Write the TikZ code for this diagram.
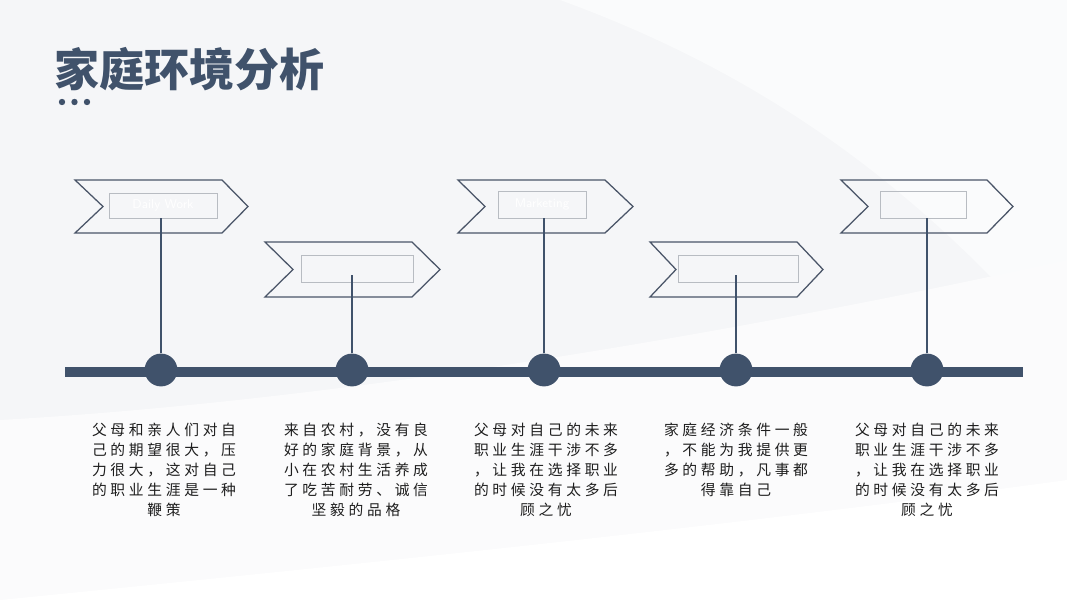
\documentclass[tikz,border=0pt]{standalone}
\usepackage{fontspec}
\setmainfont{Liberation Sans}
\newfontfamily\cjk{Noto Sans CJK SC}
\newfontfamily\cjkbody[LetterSpace=25]{Noto Sans CJK SC}
\usetikzlibrary{positioning}
\definecolor{timelineblue}{HTML}{40526B}
\definecolor{chevrongray}{HTML}{4A5568}
\definecolor{boxgray}{HTML}{B8BCC2}
\definecolor{textgray}{HTML}{1E1E1E}
\definecolor{bgpale}{HTML}{F5F6F8}

\begin{document}
\begin{tikzpicture}[x=0.025cm, y=-0.025cm,
  chev/.style={draw=chevrongray, line width=0.9pt, line join=miter},
  tagbox/.style={rectangle, draw=boxgray, line width=0.5pt, inner sep=0pt, text=white, font=\sffamily\small},
  tldot/.style={circle, fill=timelineblue, minimum size=0.82cm, inner sep=0pt},
  stem/.style={draw=timelineblue, line width=2.1pt},
  desc/.style={anchor=north, align=center, inner sep=0pt, text=textgray, font=\cjkbody\fontsize{10.5}{14.2}\selectfont}]
\useasboundingbox (0,0) rectangle (1067,600);

% Background
\fill[bgpale] (0,0) rectangle (1067,600);
\fill[white!55!bgpale] (560,0) -- (1067,0) -- (1067,360) .. controls (930,200) and (780,80) .. (560,0);
\fill[white!60!bgpale] (0,420) .. controls (350,400) and (750,330) .. (1067,260) -- (1067,600) -- (0,600) -- cycle;
\fill[white] (0,600) .. controls (300,570) and (700,530) .. (1067,480) -- (1067,600) -- cycle;

% Title
\node[anchor=west, inner sep=0pt, text=timelineblue, font=\cjk\bfseries\fontsize{32}{36}\selectfont] (title) at (54,69) {家庭环境分析};
\fill[timelineblue] (62,102) circle (3.2);
\fill[timelineblue] (74.5,102) circle (3.2);
\fill[timelineblue] (87,102) circle (3.2);

% Chevrons
\draw[chev] (75,180) -- (222,180) -- (248,206.5) -- (222,233) -- (75,233) -- (103,206.5) -- cycle;
\draw[chev] (265,242) -- (412,242) -- (440,269.5) -- (412,297) -- (265,297) -- (293,269.5) -- cycle;
\draw[chev] (458,180) -- (605,180) -- (633,206.5) -- (605,233) -- (458,233) -- (485,206.5) -- cycle;
\draw[chev] (650,242) -- (797,242) -- (823,269.5) -- (797,297) -- (650,297) -- (676,269.5) -- cycle;
\draw[chev] (841,180) -- (987,180) -- (1013,206.5) -- (987,233) -- (841,233) -- (868,206.5) -- cycle;

% Tag boxes
\node[tagbox, minimum width=2.7cm, minimum height=0.625cm] (t1) at (163,205.5) {Daily Work};
\node[tagbox, minimum width=2.8cm, minimum height=0.675cm] (t2) at (357,268.5) {};
\node[tagbox, minimum width=2.2cm, minimum height=0.675cm] (t3) at (542,204.5) {Marketing};
\node[tagbox, minimum width=3.0cm, minimum height=0.675cm] (t4) at (738,268.5) {};
\node[tagbox, minimum width=2.15cm, minimum height=0.675cm] (t5) at (923,204.5) {};

% Timeline
\coordinate (barL) at (65,372);
\coordinate (barR) at (1023,372);
\draw[timelineblue, line width=0.25cm] (barL) -- (barR);

\node[tldot] (d1) at (161,370) {};
\node[tldot] (d2) at (352,370) {};
\node[tldot] (d3) at (544,370) {};
\node[tldot] (d4) at (736,370) {};
\node[tldot] (d5) at (927,370) {};

% Stems
\draw[stem] (d1.north) -- (d1 |- t1.south);
\draw[stem] (d2.north) -- ([yshift=5pt]d2 |- t2.south);
\draw[stem] (d3.north) -- (d3 |- t3.south);
\draw[stem] (d4.north) -- ([yshift=5pt]d4 |- t4.south);
\draw[stem] (d5.north) -- (d5 |- t5.south);

% Descriptions
\node[desc] (p1) at (164,423) {父母和亲人们对自\\己的期望很大，压\\力很大，这对自己\\的职业生涯是一种\\鞭策};
\node[desc] (p2) at (356,423) {来自农村，没有良\\好的家庭背景，从\\小在农村生活养成\\了吃苦耐劳、诚信\\坚毅的品格};
\node[desc] (p3) at (546,423) {父母对自己的未来\\职业生涯干涉不多\\，让我在选择职业\\的时候没有太多后\\顾之忧};
\node[desc] (p4) at (736,423) {家庭经济条件一般\\，不能为我提供更\\多的帮助，凡事都\\得靠自己};
\node[desc] (p5) at (927,423) {父母对自己的未来\\职业生涯干涉不多\\，让我在选择职业\\的时候没有太多后\\顾之忧};

\end{tikzpicture}
\end{document}
